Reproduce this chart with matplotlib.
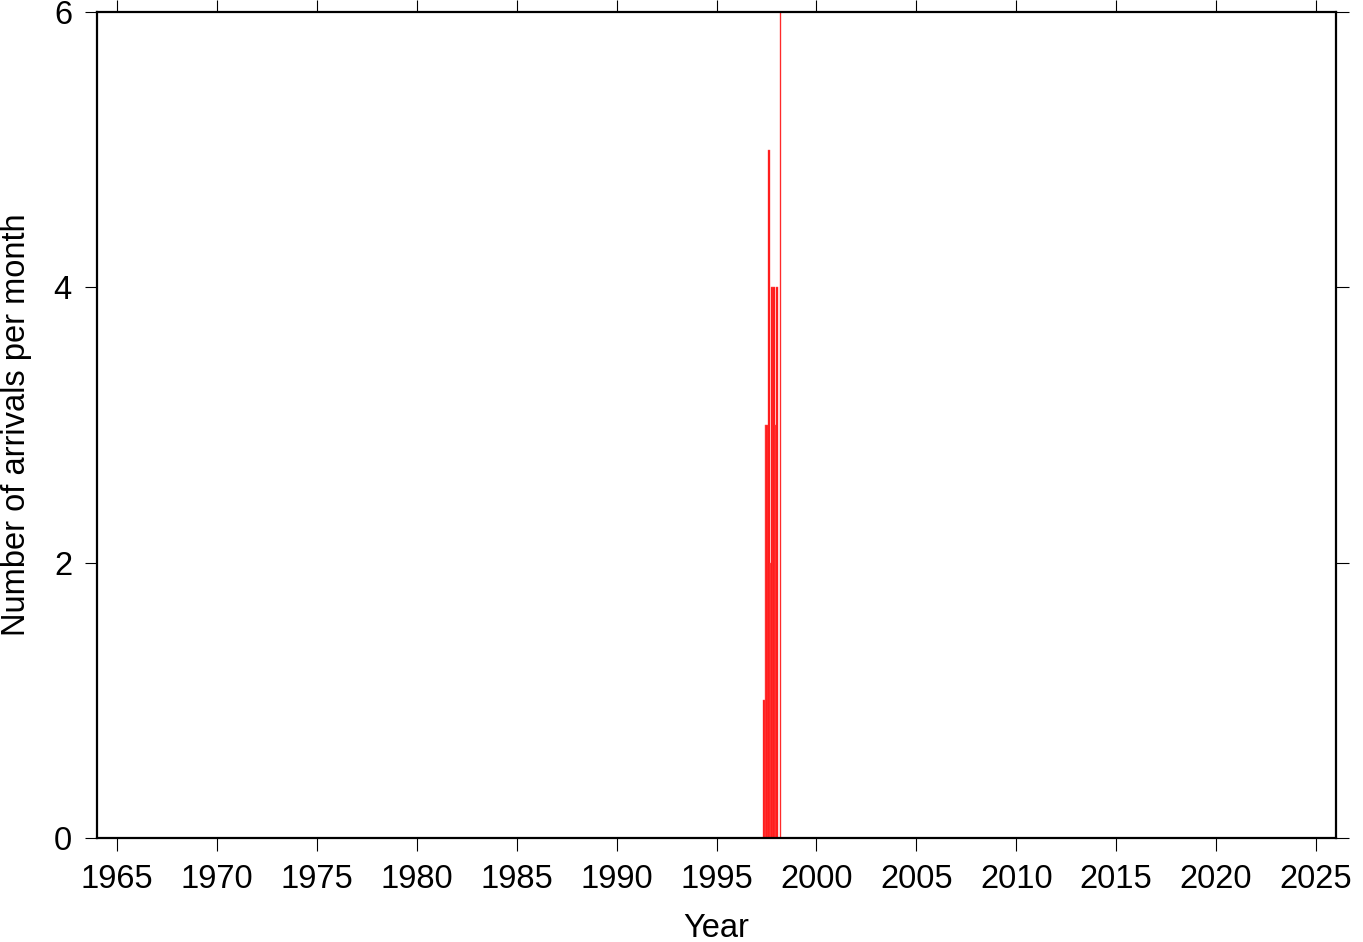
import matplotlib
matplotlib.use("Agg")
import matplotlib.pyplot as plt
import numpy as np

# Monthly bins (start of month, decimal year) and arrival counts
month_start = [1997 + 4/12, 1997 + 5/12, 1997 + 6/12, 1997 + 7/12, 1997 + 8/12,
               1997 + 9/12, 1997 + 10/12, 1997 + 11/12, 1998 + 0/12, 1998 + 1/12,
               1998 + 2/12]
counts = [1, 3, 3, 5, 2, 4, 4, 3, 4, 0, 6]

x_ticks = list(range(1965, 2026, 5))
y_ticks = [0, 2, 4, 6]

plt.rcParams['font.family'] = ['Liberation Sans', 'DejaVu Sans']

fig = plt.figure(figsize=(13.63, 9.42), dpi=100)
ax = fig.add_axes([97/1363, 1 - 838/942, (1336-97)/1363, (838-12)/942])

ax.bar(month_start, counts, width=1/12, align='edge', color='#ff1010',
       edgecolor='#ff5050', linewidth=0.3)

ax.set_xlim(1964, 2026)
ax.set_ylim(0, 6)
ax.set_xticks(x_ticks)
ax.set_yticks(y_ticks)
ax.tick_params(axis='both', which='both', direction='out', length=9, width=0.8,
               labelsize=23.5, top=True, right=True, labeltop=False, labelright=False)
ax.tick_params(axis='x', pad=10)
ax.tick_params(axis='y', pad=9)
for s in ax.spines.values():
    s.set_linewidth(1.6)

ax.set_xlabel('Year', fontsize=23.5, labelpad=13)
ax.set_ylabel('Number of arrivals per month', fontsize=23.5, labelpad=16)

fig.savefig('out.png', dpi=100)
